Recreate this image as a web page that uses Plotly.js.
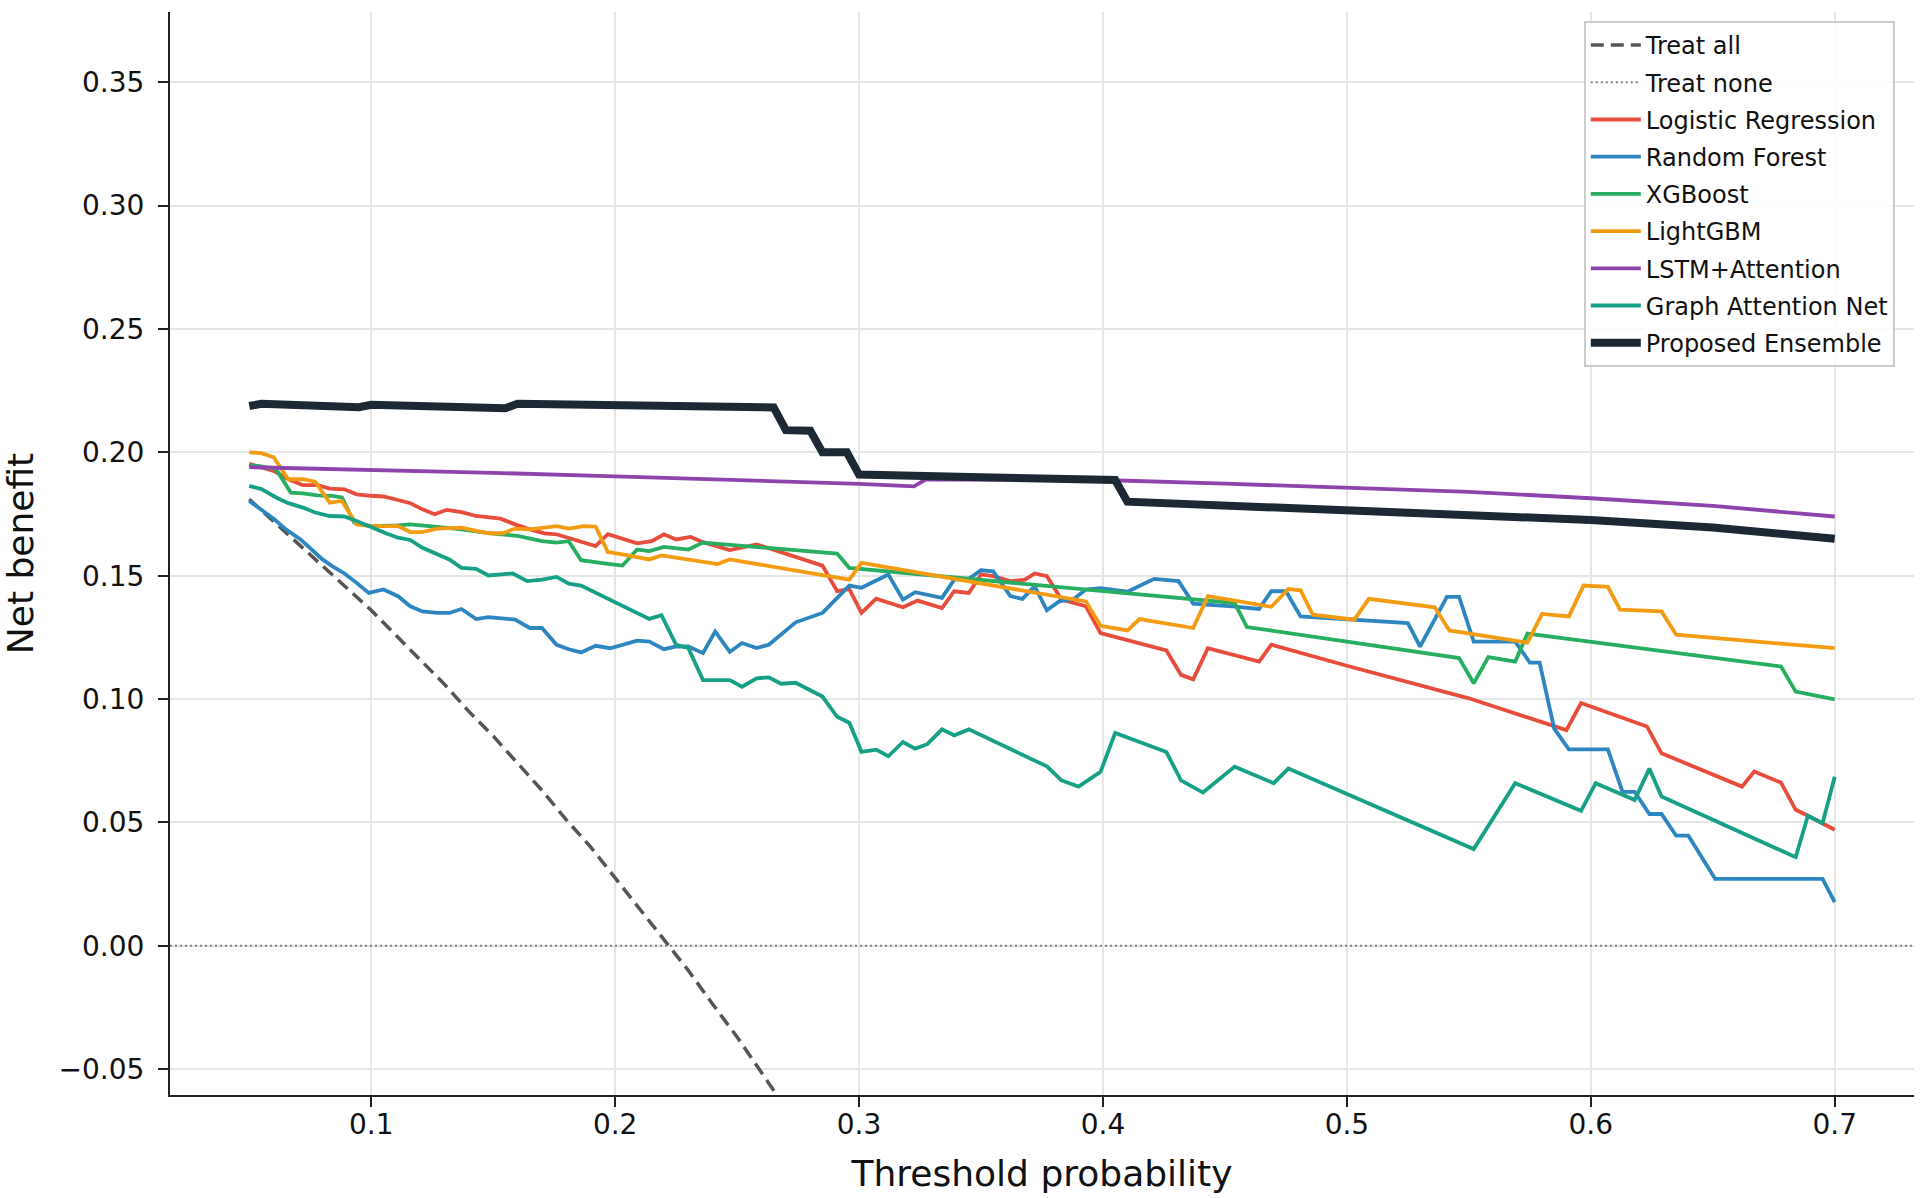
<!DOCTYPE html>
<html><head><meta charset="utf-8">
<script src="https://cdn.plot.ly/plotly-3.0.1.min.js"></script>
<style>html,body{margin:0;padding:0;background:#fff}#chart{width:1927px;height:1198px}</style>
</head><body><div id="chart"></div>
<script>
// ---- axis data ----
const xRange = [0.0175, 0.7325];
const yRange = [-0.0605, 0.3785];
const xTickVals = [0.1, 0.2, 0.3, 0.4, 0.5, 0.6, 0.7];
const xTickText = ["0.1", "0.2", "0.3", "0.4", "0.5", "0.6", "0.7"];
const yTickVals = [-0.05, 0.0, 0.05, 0.10, 0.15, 0.20, 0.25, 0.30, 0.35];
const yTickText = ["\u22120.05", "0.00", "0.05", "0.10", "0.15", "0.20", "0.25", "0.30", "0.35"];

// ---- Treat all ----
const treatAllX = [0.05,0.06,0.07,0.08,0.09,0.10,0.11,0.12,0.13,0.14,0.15,0.16,0.17,0.18,0.19,0.20,0.21,0.22,0.23,0.24,0.25,0.26,0.27,0.28];
const treatAllY = [0.181,0.172,0.163,0.154,0.145,0.136,0.126,0.116,0.106,0.095,0.085,0.074,0.063,0.051,0.040,0.0275,0.015,0.0025,-0.010,-0.0237,-0.037,-0.0514,-0.066,-0.0806];

// ---- Treat none ----
const treatNoneY = [0, 0];

// ---- Logistic Regression ----
const lrX = [0.050,0.055,0.060,0.066,0.072,0.078,0.083,0.089,0.094,0.100,0.105,0.111,0.116,0.121,0.126,0.131,0.137,0.143,0.148,0.153,0.159,0.164,0.171,0.176,0.182,0.187,0.192,0.197,0.203,0.209,0.215,0.220,0.225,0.231,0.236,0.247,0.258,0.269,0.285,0.291,0.296,0.301,0.307,0.318,0.324,0.334,0.339,0.345,0.350,0.355,0.362,0.368,0.372,0.377,0.383,0.393,0.399,0.426,0.432,0.437,0.443,0.464,0.469,0.500,0.521,0.550,0.590,0.596,0.623,0.629,0.662,0.667,0.678,0.684,0.689,0.700];
const lrY = [0.1953,0.1939,0.1925,0.1891,0.1867,0.1867,0.1853,0.1850,0.1830,0.1824,0.1821,0.1807,0.1794,0.1769,0.1749,0.1767,0.1758,0.1742,0.1738,0.1731,0.1708,0.1691,0.1672,0.1668,0.1650,0.1636,0.1620,0.1668,0.1650,0.1631,0.1640,0.1668,0.1647,0.1657,0.1636,0.1604,0.1627,0.1593,0.1541,0.1437,0.1446,0.1349,0.1407,0.1372,0.1399,0.1369,0.1437,0.1430,0.1505,0.1498,0.1478,0.1484,0.1509,0.1498,0.1403,0.1376,0.1267,0.1197,0.1098,0.1080,0.1206,0.1152,0.1220,0.1135,0.1078,0.1003,0.0874,0.0984,0.0889,0.0780,0.0645,0.0706,0.0661,0.0551,0.0527,0.0470];

// ---- Random Forest ----
const rfX = [0.050,0.055,0.060,0.065,0.071,0.077,0.080,0.084,0.089,0.094,0.099,0.105,0.111,0.116,0.121,0.127,0.132,0.137,0.143,0.148,0.154,0.159,0.165,0.170,0.176,0.181,0.186,0.192,0.198,0.203,0.209,0.214,0.220,0.225,0.230,0.236,0.241,0.247,0.252,0.258,0.263,0.274,0.285,0.296,0.301,0.312,0.318,0.323,0.334,0.339,0.345,0.350,0.355,0.362,0.367,0.372,0.377,0.382,0.388,0.393,0.399,0.410,0.421,0.431,0.437,0.453,0.464,0.469,0.475,0.481,0.525,0.530,0.541,0.546,0.552,0.569,0.575,0.579,0.585,0.591,0.607,0.613,0.618,0.624,0.629,0.635,0.640,0.651,0.695,0.700];
const rfY = [0.1803,0.1767,0.1731,0.1688,0.1647,0.1593,0.1566,0.1539,0.1509,0.1471,0.1430,0.1444,0.1417,0.1376,0.1355,0.1349,0.1349,0.1365,0.1324,0.1332,0.1328,0.1322,0.1288,0.1288,0.1220,0.1202,0.1189,0.1216,0.1206,0.1220,0.1237,0.1233,0.1202,0.1213,0.1213,0.1186,0.1274,0.1191,0.1227,0.1207,0.1220,0.1311,0.1349,0.1460,0.1451,0.1505,0.1403,0.1433,0.1410,0.1484,0.1487,0.1522,0.1518,0.1417,0.1406,0.1457,0.1360,0.1396,0.1406,0.1444,0.1450,0.1435,0.1487,0.1478,0.1387,0.1376,0.1365,0.1437,0.1437,0.1335,0.1308,0.1213,0.1414,0.1414,0.1233,0.1233,0.1148,0.1148,0.0880,0.0796,0.0796,0.0624,0.0624,0.0534,0.0534,0.0446,0.0446,0.0271,0.0271,0.0177];

// ---- XGBoost ----
const xgbX = [0.050,0.055,0.061,0.067,0.072,0.078,0.084,0.088,0.093,0.100,0.111,0.116,0.126,0.137,0.149,0.160,0.170,0.176,0.181,0.186,0.197,0.203,0.209,0.214,0.220,0.230,0.236,0.291,0.296,0.454,0.459,0.546,0.552,0.558,0.569,0.574,0.678,0.684,0.700];
const xgbY = [0.1948,0.1943,0.1932,0.1837,0.1834,0.1826,0.1824,0.1817,0.1715,0.1701,0.1704,0.1708,0.1699,0.1688,0.1672,0.1661,0.1640,0.1634,0.1640,0.1563,0.1548,0.1541,0.1606,0.1600,0.1617,0.1606,0.1634,0.1590,0.1532,0.1389,0.1292,0.1166,0.1064,0.1170,0.1152,0.1265,0.1132,0.1030,0.0999];

// ---- LightGBM ----
const lgbmX = [0.050,0.055,0.060,0.066,0.072,0.077,0.083,0.088,0.094,0.100,0.111,0.116,0.121,0.127,0.137,0.148,0.154,0.159,0.165,0.176,0.181,0.187,0.192,0.197,0.203,0.214,0.219,0.242,0.247,0.296,0.301,0.393,0.399,0.410,0.415,0.437,0.443,0.469,0.476,0.481,0.486,0.503,0.509,0.536,0.542,0.574,0.580,0.591,0.597,0.607,0.612,0.629,0.635,0.700];
const lgbmY = [0.2000,0.1997,0.1980,0.1891,0.1891,0.1881,0.1796,0.1803,0.1708,0.1701,0.1701,0.1677,0.1677,0.1691,0.1695,0.1672,0.1672,0.1691,0.1688,0.1701,0.1691,0.1701,0.1699,0.1596,0.1586,0.1566,0.1582,0.1547,0.1566,0.1484,0.1552,0.1396,0.1297,0.1278,0.1324,0.1288,0.1417,0.1374,0.1446,0.1441,0.1342,0.1322,0.1406,0.1372,0.1278,0.1229,0.1345,0.1335,0.1460,0.1455,0.1362,0.1355,0.1261,0.1206];

// ---- LSTM+Attention ----
const lstmX = [0.050,0.100,0.150,0.200,0.250,0.300,0.3225,0.3275,0.350,0.400,0.450,0.500,0.550,0.600,0.650,0.700];
const lstmY = [0.1940,0.1930,0.1917,0.1903,0.1888,0.1872,0.1862,0.1891,0.1890,0.1888,0.1873,0.1858,0.1840,0.1814,0.1783,0.1740];

// ---- Graph Attention Net ----
const gatX = [0.050,0.055,0.061,0.066,0.072,0.077,0.083,0.089,0.094,0.100,0.106,0.111,0.116,0.121,0.127,0.132,0.137,0.143,0.148,0.153,0.158,0.164,0.170,0.176,0.181,0.186,0.214,0.219,0.225,0.230,0.236,0.247,0.252,0.258,0.263,0.268,0.274,0.285,0.291,0.296,0.301,0.307,0.312,0.318,0.323,0.328,0.334,0.339,0.345,0.377,0.383,0.390,0.399,0.405,0.426,0.432,0.441,0.454,0.470,0.476,0.552,0.569,0.596,0.602,0.618,0.624,0.629,0.684,0.689,0.695,0.700];
const gatY = [0.1864,0.1851,0.1817,0.1794,0.1776,0.1756,0.1742,0.1740,0.1722,0.1695,0.1672,0.1654,0.1645,0.1613,0.1586,0.1566,0.1532,0.1528,0.1501,0.1505,0.1509,0.1478,0.1484,0.1495,0.1468,0.1460,0.1325,0.1340,0.1220,0.1207,0.1077,0.1077,0.1050,0.1084,0.1088,0.1062,0.1066,0.1010,0.0928,0.0904,0.0786,0.0795,0.0768,0.0826,0.0799,0.0817,0.0877,0.0853,0.0877,0.0727,0.0670,0.0645,0.0705,0.0863,0.0785,0.0670,0.0621,0.0726,0.0659,0.0718,0.0392,0.0659,0.0547,0.0659,0.0591,0.0718,0.0605,0.0359,0.0527,0.0497,0.0685];

// ---- Proposed Ensemble ----
const ensX = [0.050,0.055,0.095,0.100,0.155,0.160,0.265,0.270,0.280,0.285,0.295,0.300,0.350,0.405,0.410,0.450,0.500,0.550,0.600,0.650,0.700];
const ensY = [0.2188,0.2197,0.2183,0.2193,0.2179,0.2197,0.2182,0.2090,0.2088,0.2000,0.2000,0.1910,0.1899,0.1888,0.1800,0.1785,0.1767,0.1748,0.1726,0.1695,0.1650];

const FONT = "DejaVu Sans";
function tr(name, x, y, color, width, dash, grp) {
  return {type: "scatter", mode: "lines", name: name, x: x, y: y, legendgroup: grp,
          line: {color: color, width: width, dash: dash || "solid"}, hoverinfo: "skip"};
}
const traces = [
  tr("Treat all", treatAllX, treatAllY, "#555555", 3.5, "13px,7px", "g1"),
  tr("Treat none", xRange, treatNoneY, "#808080", 2, "2px,3px", "g2"),
  tr("Logistic Regression", lrX, lrY, "#e74c3c", 3.8, null, "g3"),
  tr("Random Forest", rfX, rfY, "#2e86c1", 3.8, null, "g4"),
  tr("XGBoost", xgbX, xgbY, "#27ae60", 3.8, null, "g5"),
  tr("LightGBM", lgbmX, lgbmY, "#f39c12", 3.8, null, "g6"),
  tr("LSTM+Attention", lstmX, lstmY, "#8e44ad", 3.8, null, "g7"),
  tr("Graph Attention Net", gatX, gatY, "#16a085", 3.8, null, "g8"),
  tr("Proposed Ensemble", ensX, ensY, "#1c2833", 8, null, "g9")
];

const axisCommon = {
  showline: true, linecolor: "#222222", linewidth: 2, mirror: false,
  ticks: "outside", ticklen: 10, tickwidth: 2, tickcolor: "#222222",
  showgrid: true, gridcolor: "#e6e6e6", gridwidth: 2, zeroline: false,
  tickfont: {family: FONT, size: 28, color: "#111111"}, automargin: false
};
const layout = {
  width: 1927, height: 1198,
  margin: {l: 170, r: 13, t: 12, b: 103},
  paper_bgcolor: "#ffffff", plot_bgcolor: "#ffffff",
  font: {family: FONT, color: "#111111"},
  showlegend: true,
  xaxis: Object.assign({}, axisCommon, {
    range: xRange, tickmode: "array", tickvals: xTickVals, ticktext: xTickText,
    ticklabelstandoff: -7,
    title: {text: "Threshold probability", font: {family: FONT, size: 36, color: "#111111"}, standoff: 21}
  }),
  yaxis: Object.assign({}, axisCommon, {
    range: yRange, tickmode: "array", tickvals: yTickVals, ticktext: yTickText,
    ticklabelstandoff: 8,
    title: {text: "Net benefit", font: {family: FONT, size: 36, color: "#111111"}, standoff: 14}
  }),
  legend: {
    x: 0.989, y: 0.9917, xanchor: "right", yanchor: "top",
    bgcolor: "rgba(255,255,255,0.85)", bordercolor: "#cccccc", borderwidth: 2,
    font: {family: FONT, size: 24, color: "#111111"},
    tracegroupgap: 3, itemwidth: 50
  }
};
Plotly.newPlot("chart", traces, layout, {staticPlot: true, displayModeBar: false});
</script></body></html>
